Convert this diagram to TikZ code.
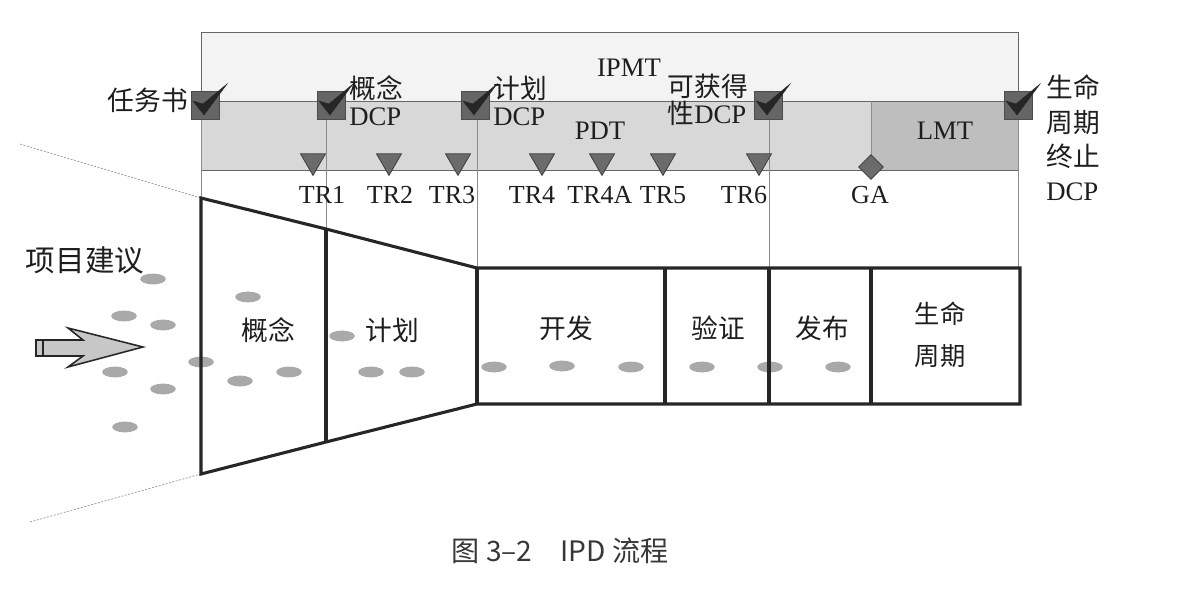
\documentclass[tikz,border=0pt]{standalone}
\usepackage{fontspec}
\setmainfont{Liberation Serif}
\newfontfamily\cjk{Noto Sans CJK SC}
\usetikzlibrary{shapes.geometric}
\definecolor{ipmtfill}{HTML}{F3F3F3}
\definecolor{pdtfill}{HTML}{D8D8D8}
\definecolor{lmtfill}{HTML}{BEBEBE}
\definecolor{boxdark}{HTML}{656565}
\definecolor{dotgray}{HTML}{A9A9A9}
\definecolor{txt}{HTML}{1E1E1E}
\begin{document}
\begin{tikzpicture}[x=0.025cm,y=-0.025cm,
  lbl/.style={font=\fontsize{19}{19}\selectfont, text=txt, inner sep=0pt},
  trlbl/.style={font=\fontsize{18.5}{19}\selectfont, text=txt, inner sep=0pt},
  cn/.style={font=\fontsize{19}{27}\selectfont\cjk, text=txt, inner sep=0pt},
  thinline/.style={draw=black!45, line width=0.5pt},
  funnel/.style={draw=black!85, line width=2.2pt, line join=miter},
  chkbox/.style={draw=black!70, fill=boxdark, minimum size=0.7cm, inner sep=0pt},
  chkmark/.style={fill=black!85, draw=black!85, line width=0.3pt},
  gate/.style={regular polygon, regular polygon sides=3, shape border rotate=180,
    minimum size=0.72cm, inner sep=0pt, fill=black!58, draw=black!75, line width=0.6pt},
  gadia/.style={diamond, minimum size=0.62cm, inner sep=0pt, fill=black!58, draw=black!75, line width=0.6pt},
  idea/.style={ellipse, minimum width=0.64cm, minimum height=0.27cm, inner sep=0pt, fill=dotgray}
]
\useasboundingbox (0,0) rectangle (1184,590);
\fill[white] (0,0) rectangle (1184,590);

% team bands
\draw[draw=black!60, fill=ipmtfill, line width=0.6pt] (201,32) rectangle (1018,170);
\draw[draw=black!60, fill=pdtfill, line width=0.6pt] (201,101) rectangle (1018,170);
\draw[draw=black!60, fill=lmtfill, line width=0.6pt] (871,101) rectangle (1018,170);
\node[lbl] (ipmt) at (629,68) {IPMT};
\node[lbl] (pdt) at (600,131) {PDT};
\node[lbl] (lmt) at (945,131) {LMT};

% phase funnel outline coordinates
\coordinate (a1) at (201,198); \coordinate (a2) at (201,474);
\coordinate (b1) at (326,229); \coordinate (b2) at (326,442);
\coordinate (c1) at (477,268); \coordinate (c2) at (477,404);
\coordinate (d1) at (665,268); \coordinate (d2) at (665,404);
\coordinate (e1) at (769,268); \coordinate (e2) at (769,404);
\coordinate (f1) at (871,268); \coordinate (f2) at (871,404);
\coordinate (g1) at (1020,268); \coordinate (g2) at (1020,404);

% thin vertical guide lines
\draw[thinline] (201,101) -- (a1);
\draw[thinline] (326,101) -- (b1);
\draw[thinline] (477,101) -- (c1);
\draw[thinline] (769,101) -- (e1);
\draw[thinline] (1018,101) -- (1018,268);
\draw[thinline] (871,101) -- (871,160);

% dotted funnel mouth
\coordinate (m1) at (20,144); \coordinate (m2) at (30,522);
\draw[draw=black!40, line width=0.5pt, dash pattern=on 1.5pt off 1pt] (m1) -- (a1);
\draw[draw=black!40, line width=0.5pt, dash pattern=on 1.5pt off 1pt] (m2) -- (a2);

% ideas (ellipses)
\foreach \x/\y [count=\i] in {153/279,124/316,163/325,248/297,201/362,115/372,163/389,125/427,240/381,289/372,342/336,371/372,412/372,494/367,562/366,631/367,702/367,770/367,838/367}
  \node[idea] (idea\i) at (\x,\y) {};

% funnel
\draw[funnel] (a1) -- (b1) -- (c1) -- (g1) -- (g2) -- (c2) -- (b2) -- (a2) -- cycle;
\draw[funnel] (b1) -- (b2);
\draw[funnel] (c1) -- (c2);
\draw[funnel] (d1) -- (d2);
\draw[funnel] (e1) -- (e2);
\draw[funnel] (f1) -- (f2);

% phase labels
\node[cn] (p1) at (268,330) {概念};
\node[cn] (p2) at (392,330) {计划};
\node[cn] (p3) at (566,328) {开发};
\node[cn] (p4) at (718,328) {验证};
\node[cn] (p5) at (822,328) {发布};
\node[cn, align=center, font=\fontsize{18}{30}\selectfont\cjk] (p6) at (940,335) {生命\\周期};
\node[cn, font=\fontsize{21}{25}\selectfont\cjk] (proposal) at (85,260) {项目建议};

% input arrow
\draw[draw=black!85, fill=black!22, line width=1.1pt, line join=miter]
  (36,340) -- (83,340) -- (68,328) -- (143,347) -- (68,367) -- (83,356) -- (36,356) -- cycle;
\draw[draw=black!85, line width=0.8pt] (43,340) -- (43,356);

% technical reviews
\foreach \n/\x/\lx in {1/313/322,2/389/390,3/458/452,4/542/532,4A/602/600,5/663/663,6/759/744}{
  \node[gate] (tr\n) at (\x,161) {};
  \node[trlbl] (trl\n) at (\lx,195) {TR\n};
}
\node[gadia] (ga) at (871,167) {};
\node[trlbl] (gal) at (870,195) {GA};

% decision checkpoints
\foreach \n/\x in {1/205,2/331,3/475,4/768,5/1018}{
  \node[chkbox] (dcp\n) at (\x,105) {};
  \fill[chkmark] ([shift={(-12,-4)}]dcp\n.center) -- ([shift={(-2,-1)}]dcp\n.center)
     -- ([shift={(22,-21)}]dcp\n.center) -- ([shift={(-1,10)}]dcp\n.center) -- cycle;
}
\node[lbl, anchor=east, font=\fontsize{19}{19}\selectfont\cjk] (l1) at (188,100) {任务书};
\node[lbl, anchor=west, align=left, font=\fontsize{19}{19}\selectfont] (l2) at (349,101) {{\cjk 概念}\\DCP};
\node[lbl, anchor=west, align=left, font=\fontsize{19}{19}\selectfont] (l3) at (493,101) {{\cjk 计划}\\DCP};
\node[lbl, anchor=east, align=left, font=\fontsize{19}{19}\selectfont] (l4) at (748,100) {{\cjk 可获得}\\{\cjk 性}DCP};
\node[lbl, anchor=west, align=left, font=\fontsize{19}{24.5}\selectfont] (l5) at (1046,138) {{\cjk 生命}\\{\cjk 周期}\\{\cjk 终止}\\DCP};

% caption
\node[font=\fontsize{20}{22}\selectfont\cjk, text=black!78, inner sep=0pt] (cap) at (560,551) {图 3–2\quad IPD 流程};
\end{tikzpicture}
\end{document}
